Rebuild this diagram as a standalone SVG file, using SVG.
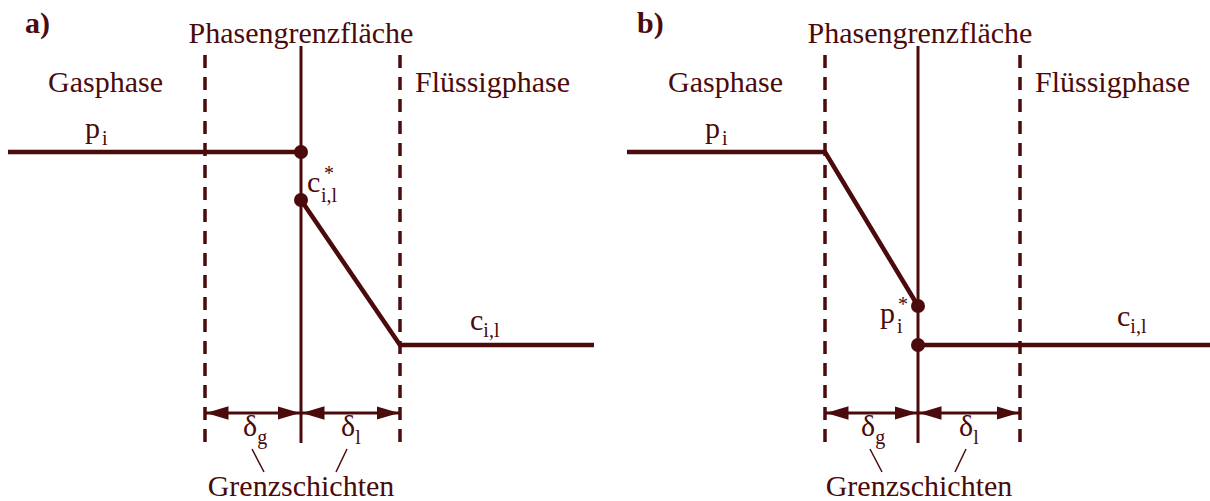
<svg xmlns="http://www.w3.org/2000/svg" width="1210" height="501" viewBox="0 0 1210 501">
<style>
text{font-family:"Liberation Serif","Times New Roman",serif;fill:#4b0a0b}
.lbl{font-size:30px}
.sub{font-size:20px}
.dash{stroke:#4b0a0b;stroke-width:3.5;stroke-dasharray:13 9;fill:none}
.iface{stroke:#4b0a0b;stroke-width:3;fill:none}
.prof{stroke:#4b0a0b;stroke-width:4.5;fill:none;stroke-linecap:butt}
.dim{stroke:#4b0a0b;stroke-width:3;fill:none}
.lead{stroke:#4b0a0b;stroke-width:1.5;fill:none}
.dot{fill:#4b0a0b}
</style>
<defs>
<marker id="ah" viewBox="0 0 10 10" refX="10" refY="5" markerWidth="7.5" markerHeight="4.5" markerUnits="strokeWidth" orient="auto-start-reverse" preserveAspectRatio="none">
<path d="M0,0 L10,5 L0,10 Z" fill="#4b0a0b"/>
</marker>
</defs>

<g id="panel-a">
<g id="a-boundaries">
<line class="dash" x1="205" y1="55" x2="205" y2="446"/>
<line class="dash" x1="400" y1="55" x2="400" y2="446"/>
<line class="iface" x1="301" y1="46" x2="301" y2="443"/>
</g>
<g id="a-connectors">
<polyline class="prof" points="8,152 301,152"/>
<polyline class="prof" points="301,200 400,345 594,345"/>
<line class="dim" x1="206" y1="413" x2="300" y2="413" marker-start="url(#ah)" marker-end="url(#ah)"/>
<line class="dim" x1="302" y1="413" x2="399" y2="413" marker-start="url(#ah)" marker-end="url(#ah)"/>
<line class="lead" x1="252" y1="449" x2="264" y2="472"/>
<line class="lead" x1="347" y1="449" x2="336" y2="472"/>
</g>
<g id="a-dots">
<circle class="dot" cx="301" cy="152" r="7"/>
<circle class="dot" cx="301" cy="200" r="7"/>
</g>
<g id="a-labels">
<text x="25" y="33" class="lbl" font-weight="bold">a)</text>
<text x="301" y="43" class="lbl" text-anchor="middle">Phasengrenzfläche</text>
<text x="48" y="92" class="lbl">Gasphase</text>
<text x="415" y="92" class="lbl">Flüssigphase</text>
<text x="85" y="138" class="lbl">p<tspan class="sub" dx="2" dy="7">i</tspan></text>
<text x="307" y="192" class="lbl">c</text>
<text x="324" y="180" class="sub">*</text>
<text x="321" y="202" class="sub">i,l</text>
<text x="470" y="330" class="lbl">c<tspan class="sub" dy="7">i,l</tspan></text>
<text x="243" y="436" class="lbl">δ<tspan class="sub" dy="8">g</tspan></text>
<text x="341" y="436" class="lbl">δ<tspan class="sub" dy="8">l</tspan></text>
<text x="301" y="496" class="lbl" text-anchor="middle">Grenzschichten</text>
</g>
</g>

<g id="panel-b">
<g id="b-boundaries">
<line class="dash" x1="825" y1="55" x2="825" y2="446"/>
<line class="dash" x1="1020" y1="55" x2="1020" y2="446"/>
<line class="iface" x1="918" y1="46" x2="918" y2="443"/>
</g>
<g id="b-connectors">
<polyline class="prof" points="627,152 825,152 918,306"/>
<polyline class="prof" points="918,345 1210,345"/>
<line class="dim" x1="826" y1="413" x2="917" y2="413" marker-start="url(#ah)" marker-end="url(#ah)"/>
<line class="dim" x1="919" y1="413" x2="1019" y2="413" marker-start="url(#ah)" marker-end="url(#ah)"/>
<line class="lead" x1="870" y1="449" x2="882" y2="472"/>
<line class="lead" x1="966" y1="449" x2="955" y2="472"/>
</g>
<g id="b-dots">
<circle class="dot" cx="918" cy="306" r="7"/>
<circle class="dot" cx="918" cy="345" r="7"/>
</g>
<g id="b-labels">
<text x="637" y="33" class="lbl" font-weight="bold">b)</text>
<text x="920" y="43" class="lbl" text-anchor="middle">Phasengrenzfläche</text>
<text x="668" y="92" class="lbl">Gasphase</text>
<text x="1035" y="92" class="lbl">Flüssigphase</text>
<text x="705" y="138" class="lbl">p<tspan class="sub" dx="2" dy="7">i</tspan></text>
<text x="880" y="323" class="lbl">p</text>
<text x="898" y="311" class="sub">*</text>
<text x="897" y="333" class="sub">i</text>
<text x="1117" y="326" class="lbl">c<tspan class="sub" dy="7">i,l</tspan></text>
<text x="861" y="436" class="lbl">δ<tspan class="sub" dy="8">g</tspan></text>
<text x="959" y="436" class="lbl">δ<tspan class="sub" dy="8">l</tspan></text>
<text x="919" y="496" class="lbl" text-anchor="middle">Grenzschichten</text>
</g>
</g>
</svg>
